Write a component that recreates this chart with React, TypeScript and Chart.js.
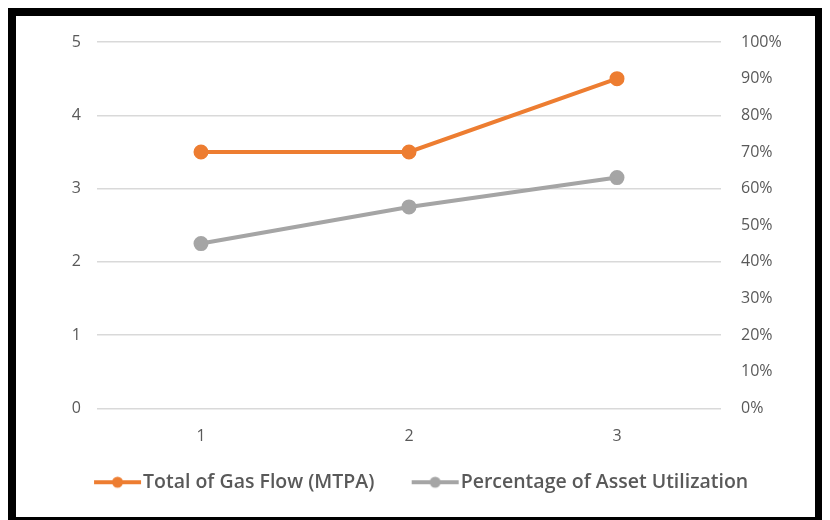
import React, { useEffect, useRef } from "react";
import { Chart, registerables } from "chart.js";

Chart.register(...registerables);

const categories = ["1", "2", "3"];
const gasFlow = [3.5, 3.5, 4.5];
const utilization = [0.45, 0.55, 0.63];
const seriesNames = ["Total of Gas Flow (MTPA)", "Percentage of Asset Utilization"];
const ORANGE = "#ED7D31";
const GRAY = "#A5A5A5";
const TEXT = "#595959";

// legend marker: a line with a dot, drawn offset to the right within a wider image
function makeMarker(color: string) {
  const c = document.createElement("canvas");
  c.width = 74;
  c.height = 14;
  const ctx = c.getContext("2d")!;
  ctx.strokeStyle = color;
  ctx.lineWidth = 4;
  ctx.lineCap = "butt";
  ctx.beginPath();
  ctx.moveTo(26, 7);
  ctx.lineTo(73, 7);
  ctx.stroke();
  ctx.fillStyle = color;
  ctx.beginPath();
  ctx.arc(49.5, 7, 5.5, 0, Math.PI * 2);
  ctx.fill();
  return c;
}

export default function App() {
  const ref = useRef<HTMLCanvasElement>(null);
  useEffect(() => {
    const markers = [makeMarker(ORANGE), makeMarker(GRAY)];
    const tickFont = { family: "'Open Sans'", size: 16 };
    const chart = new Chart(ref.current!, {
      type: "line",
      data: {
        labels: categories,
        datasets: [
          {
            label: seriesNames[0],
            data: gasFlow,
            borderColor: ORANGE,
            backgroundColor: ORANGE,
            borderWidth: 4,
            pointRadius: 5.5,
            pointHoverRadius: 5.5,
            pointStyle: "circle",
            yAxisID: "y",
          },
          {
            label: seriesNames[1],
            data: utilization,
            borderColor: GRAY,
            backgroundColor: GRAY,
            borderWidth: 4,
            pointRadius: 5.5,
            pointHoverRadius: 5.5,
            yAxisID: "y1",
          },
        ],
      },
      options: {
        animation: false,
        responsive: false,
        layout: { padding: { top: 26, left: 0, right: 6, bottom: 15 } },
        plugins: {
          tooltip: { enabled: false },
          legend: {
            position: "bottom",
            labels: {
              usePointStyle: true,
              pointStyleWidth: 56.5,
              padding: 20,
              color: TEXT,
              font: { family: "'Open Sans'", size: 19.5, weight: "600" },
              generateLabels: (ch: any) =>
                ch.data.datasets.map((ds: any, i: number) => ({
                  text: ds.label,
                  fillStyle: ds.borderColor,
                  strokeStyle: ds.borderColor,
                  fontColor: TEXT,
                  lineWidth: 0,
                  pointStyle: markers[i],
                  datasetIndex: i,
                  hidden: false,
                })),
            },
          },
        },
        scales: {
          x: {
            offset: true,
            grid: { display: false, drawTicks: false },
            border: { display: false },
            ticks: { color: TEXT, font: tickFont, padding: 18 },
            afterFit: (s: any) => {
              s.height = 44;
            },
          },
          y: {
            position: "left",
            min: 0,
            max: 5,
            ticks: { stepSize: 1, color: TEXT, font: tickFont, padding: 0 },
            grid: {
              color: "#D9D9D9",
              lineWidth: 1.5,
              drawTicks: true,
              tickLength: 16,
              tickColor: "rgba(0,0,0,0)",
            },
            border: { display: false },
            afterFit: (s: any) => {
              s.width = 81;
            },
          },
          y1: {
            position: "right",
            min: 0,
            max: 1,
            ticks: {
              stepSize: 0.1,
              color: TEXT,
              font: tickFont,
              padding: 0,
              callback: (v: any) => Math.round(Number(v) * 100) + "%",
            },
            grid: {
              drawOnChartArea: false,
              drawTicks: true,
              tickLength: 20,
              tickColor: "rgba(0,0,0,0)",
            },
            border: { display: false },
            afterFit: (s: any) => {
              s.width = 88;
            },
          },
        },
      },
    });
    return () => chart.destroy();
  }, []);
  return (
    <div
      style={{
        width: 815,
        height: 517,
        border: "8px solid #000",
        boxSizing: "border-box",
        background: "#fff",
        boxShadow: "3px 3px 4px #999",
      }}
    >
      <canvas ref={ref} width={799} height={501} style={{ display: "block" }} />
    </div>
  );
}
